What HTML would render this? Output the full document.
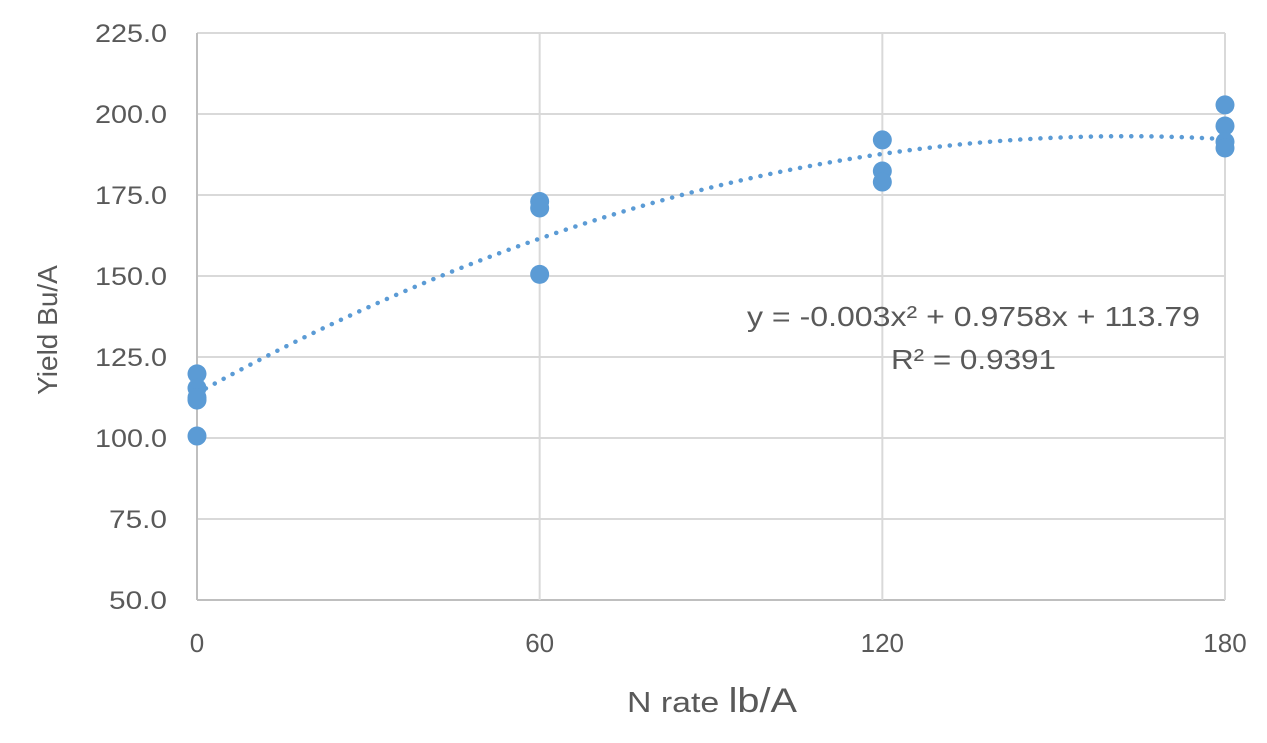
<!DOCTYPE html>
<html><head><meta charset="utf-8"><style>
body{margin:0;background:#fff;}
svg text{font-family:"Liberation Sans",sans-serif;fill:#595959;}
</style></head><body>
<svg width="1267" height="738">
<g id="grid"></g><g id="trend"></g><g id="pts"></g><g id="labels"></g>
<text x="747" y="326" font-size="28" textLength="453" lengthAdjust="spacingAndGlyphs">y = -0.003x² + 0.9758x + 113.79</text>
<text x="891" y="369" font-size="28" textLength="165" lengthAdjust="spacingAndGlyphs">R² = 0.9391</text>
<text x="627" y="712" font-size="29" textLength="170" lengthAdjust="spacingAndGlyphs">N rate <tspan font-size="34">lb/A</tspan></text>
<text transform="translate(57,330) rotate(-90)" font-size="28" text-anchor="middle">Yield Bu/A</text>
</svg>
<script>
const xTicks=[0,60,120,180];
const yTicks=[50,75,100,125,150,175,200,225];
const xVals=[0,0,0,0,0,60,60,60,120,120,120,180,180,180,180];
const yVals=[119.8,115.4,111.7,112.5,100.6,173,171,150.5,192,182.4,179,202.8,196.3,191.4,189.5];
const coef=[-0.003,0.9758,113.79];
const X=v=>197+(v-0)*(1225-197)/180;
const Y=v=>600-(v-50)*(600-33)/175;
const NS="http://www.w3.org/2000/svg";
function mk(t,a,p){const e=document.createElementNS(NS,t);for(const k in a)e.setAttribute(k,a[k]);p.appendChild(e);return e;}
const g=document.getElementById('grid'),lb=document.getElementById('labels');
yTicks.forEach(t=>{const l=mk('line',{x1:197,x2:1225,y1:Y(t),y2:Y(t),stroke:t===50?'#bfbfbf':'#d9d9d9','stroke-width':2},g);

const s=t.toFixed(1);
const tx=mk('text',{x:167,y:Y(t)+9,'font-size':25,'text-anchor':'end',textLength:s.length>4?72:58,lengthAdjust:'spacingAndGlyphs'},lb);tx.textContent=s;
});
xTicks.forEach(t=>{const l=mk('line',{x1:X(t),x2:X(t),y1:Y(225),y2:Y(50),stroke:t===0?'#bfbfbf':'#d9d9d9','stroke-width':2},g);

const tx=mk('text',{x:X(t),y:652,'font-size':26,'text-anchor':'middle'},lb);tx.textContent=t;
});
let d='';for(let x=0;x<=180;x+=1){const y=coef[0]*x*x+coef[1]*x+coef[2];d+=(x?'L':'M')+X(x)+','+Y(y);}
const tr=mk('path',{d:d,fill:'none',stroke:'#5b9bd5','stroke-width':4.5,'stroke-dasharray':'0.1 10','stroke-linecap':'round'},document.getElementById('trend'));

const pg=document.getElementById('pts');
xVals.forEach((x,i)=>{const c=mk('circle',{cx:X(x),cy:Y(yVals[i]),r:9.5,fill:'#5b9bd5'},pg);
});
</script>
</body></html>
